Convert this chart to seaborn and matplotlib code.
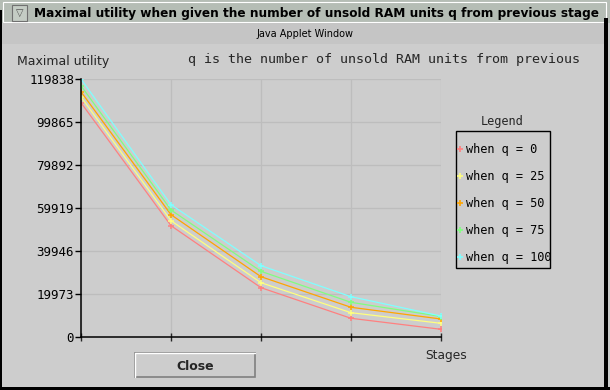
import matplotlib
matplotlib.use("Agg")
import matplotlib.pyplot as plt
from matplotlib.patches import Rectangle
from matplotlib.lines import Line2D
import seaborn as sns
import pandas as pd

# ---- data ----
stages = [0, 1, 2, 3, 4]
q_labels = ["when q = 0", "when q = 25", "when q = 50", "when q = 75", "when q = 100"]
util_q0 = [108800, 51700, 22900, 8690, 3580]
util_q25 = [111500, 54020, 25220, 11290, 6360]
util_q50 = [113900, 56810, 28010, 13800, 8360]
util_q75 = [116700, 58990, 30500, 16100, 9520]
util_q100 = [119838, 61450, 33120, 18720, 9754]
y_ticks = [0, 19973, 39946, 59919, 79892, 99865, 119838]
colors = ["#ff8080", "#ffff80", "#ffa500", "#80ff80", "#80ffff"]

series = [util_q0, util_q25, util_q50, util_q75, util_q100]
df = pd.DataFrame({
    "stage": stages * len(series),
    "utility": [v for s in series for v in s],
    "q": [lab for lab in q_labels for _ in stages],
})

sns.set_theme(style="white")
plt.rcParams["font.family"] = ["DejaVu Sans"]
MONO = "DejaVu Sans Mono"

W, H = 610, 390
BG = "#cdcdcd"
fig = plt.figure(figsize=(W / 100, H / 100), dpi=100, facecolor=BG)


def fx(x):
    return x / W


def fy(y):
    return 1 - y / H


def prect(x0, y0, x1, y1, **kw):
    fig.add_artist(Rectangle((fx(x0), fy(y1)), fx(x1) - fx(x0), fy(y0) - fy(y1),
                             transform=fig.transFigure, **kw))


# ---- window chrome ----
prect(0, 0, 610, 23, facecolor="#b5bdb5", edgecolor="none")
prect(3, 2, 606, 22, facecolor="none", edgecolor="white", linewidth=0.8)
prect(12, 5, 27, 21, facecolor="#c4ccc4", edgecolor="#707070", linewidth=0.8)
fig.text(fx(19.5), fy(13), "\u25BD", ha="center", va="center", fontsize=7, color="#505050")
fig.text(fx(34), fy(13), "Maximal utility when given the number of unsold RAM units q from previous stage",
         ha="left", va="center", fontsize=8.7, fontweight="bold", color="black")
prect(0, 23, 604, 44, facecolor="#c5c5c5", edgecolor="none")
fig.text(fx(305), fy(34), "Java Applet Window", ha="center", va="center", fontsize=7.0, color="black")
prect(0, 10, 2, 390, facecolor="black", edgecolor="none")
prect(604, 18, 608, 390, facecolor="black", edgecolor="none")
prect(0, 387, 610, 390, facecolor="black", edgecolor="none")

# ---- axes ----
ax = fig.add_axes([fx(81), fy(337), fx(441) - fx(81), fy(79) - fy(337)])
ax.set_facecolor(BG)
sns.lineplot(data=df, x="stage", y="utility", hue="q", palette=colors,
             marker="+", markersize=5, markeredgewidth=1.1, linewidth=0.9,
             ax=ax, legend=False)
for ln in ax.lines:
    ln.set_markeredgecolor(ln.get_color())
    ln.set_markerfacecolor(ln.get_color())
ax.set_xlim(0, 4)
ax.set_ylim(0, 119838)
ax.set_xticks(stages)
ax.set_xticklabels([])
ax.set_yticks(y_ticks)
ax.set_yticklabels([str(v) for v in y_ticks], fontsize=9, family=MONO, color="black")
ax.set_xlabel("")
ax.set_ylabel("")
ax.grid(True, color="#bdbdbd", linewidth=0.9)
ax.set_axisbelow(True)
for side in ["top", "right"]:
    ax.spines[side].set_visible(False)
for side in ["left", "bottom"]:
    ax.spines[side].set_color("black")
    ax.spines[side].set_linewidth(1.1)
ax.tick_params(axis="y", direction="out", length=4, width=1, pad=1, colors="black", left=True)
ax.tick_params(axis="x", direction="inout", length=6, width=1, bottom=True)

fig.text(fx(17), fy(61), "Maximal utility", ha="left", va="center", fontsize=9)
fig.text(fx(188), fy(59), "q is the number of unsold RAM units from previous",
         ha="left", va="center", fontsize=9.6, family=MONO)
fig.text(fx(425), fy(355), "Stages", ha="left", va="center", fontsize=8.8)

# ---- legend ----
handles = [Line2D([], [], color=c, marker="+", linestyle="none", markersize=5, markeredgewidth=1.2)
           for c in colors]
leg = fig.legend(handles, q_labels, loc="upper left", bbox_to_anchor=(fx(458), fy(143)),
                 prop={"family": MONO, "size": 8.6}, frameon=False, handlelength=0.4,
                 handletextpad=0.25, labelspacing=1.18, borderpad=0, borderaxespad=0)
for t in leg.get_texts():
    t.set_color("black")
prect(456, 131, 550, 268, facecolor="none", edgecolor="black", linewidth=1.0)
fig.text(fx(502), fy(122), "Legend", ha="center", va="center", fontsize=8.6, family=MONO)

# ---- Close button ----
prect(135, 353, 255, 377, facecolor="#cdcdcd", edgecolor="#808080", linewidth=1.2)
fig.add_artist(Line2D([fx(135), fx(135), fx(255)], [fy(377), fy(353), fy(353)],
                      transform=fig.transFigure, color="white", linewidth=1.0))
fig.text(fx(195), fy(366), "Close", ha="center", va="center", fontsize=9, fontweight="bold")

fig.savefig("out.png", dpi=100, facecolor=BG)
